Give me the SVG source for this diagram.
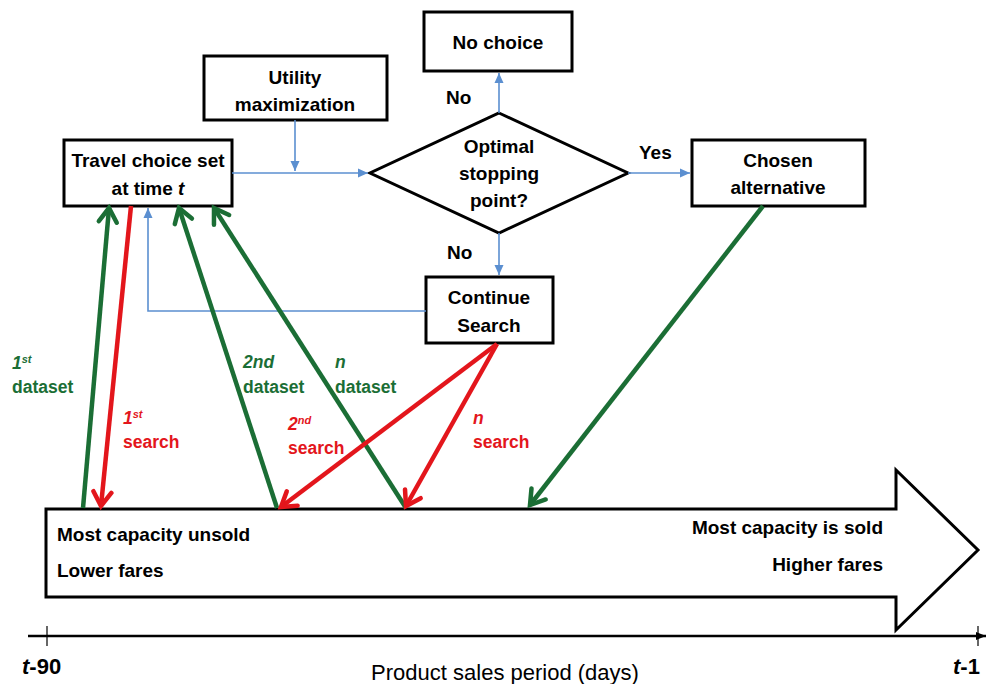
<svg xmlns="http://www.w3.org/2000/svg" width="991" height="684" viewBox="0 0 991 684">
<defs>
<style>
.box{fill:#fff;stroke:#000;stroke-width:3}
.t{font-family:"Liberation Sans",Arial,sans-serif;font-weight:bold;font-size:19px;fill:#000}
.l{font-size:17.5px}
.c{text-anchor:middle}
.g{fill:#1b6e35}
.r{fill:#e3161c}
.it{font-style:italic}
.sup{font-size:11px}
.blue{fill:none;stroke:#5b8fd0;stroke-width:1.6}
.gl{fill:none;stroke:#1b6e35;stroke-width:4.5}
.rl{fill:none;stroke:#e3161c;stroke-width:4.5}
.ax{font-family:"Liberation Sans",Arial,sans-serif;font-size:22px;fill:#000}
</style>
<marker id="bA" markerUnits="userSpaceOnUse" markerWidth="12" markerHeight="12" refX="10" refY="6" orient="auto">
<path d="M0,1.5 L10,6 L0,10.5 Z" fill="#5b8fd0"/>
</marker>
<marker id="gA" markerUnits="userSpaceOnUse" markerWidth="26" markerHeight="26" refX="20" refY="13" orient="auto">
<path d="M6,4 L20,13 L6,22" fill="none" stroke="#1b6e35" stroke-width="4.5" stroke-linecap="round"/>
</marker>
<marker id="rA" markerUnits="userSpaceOnUse" markerWidth="26" markerHeight="26" refX="20" refY="13" orient="auto">
<path d="M6,4 L20,13 L6,22" fill="none" stroke="#e3161c" stroke-width="4.5" stroke-linecap="round"/>
</marker>
<marker id="kA" markerUnits="userSpaceOnUse" markerWidth="12" markerHeight="12" refX="10" refY="6" orient="auto">
<path d="M0,2 L10,6 L0,10 Z" fill="#000"/>
</marker>
</defs>
<rect width="991" height="684" fill="#fff"/>

<g id="period-arrow">
<polygon points="46,509 896,509 896,470 978,550 896,630 896,597 46,597" fill="#fff" stroke="#000" stroke-width="3"/>
<text class="t" x="57" y="541" font-size="20.5">Most capacity unsold</text>
<text class="t" x="57" y="577" font-size="20.5">Lower fares</text>
<text class="t" x="883" y="534" font-size="20.5" text-anchor="end">Most capacity is sold</text>
<text class="t" x="883" y="571" font-size="20.5" text-anchor="end">Higher fares</text>
</g>

<g id="timeline">
<line x1="28" y1="636" x2="986" y2="636" stroke="#000" stroke-width="2.5" marker-end="url(#kA)"/>
<line x1="47" y1="626" x2="47" y2="646" stroke="#000" stroke-width="1.2"/>
<line x1="978" y1="626" x2="978" y2="646" stroke="#000" stroke-width="1.2"/>
<text class="ax" x="22" y="674" font-weight="bold" font-size="20"><tspan font-style="italic">t</tspan>-90</text>
<text class="ax" x="505" y="680" text-anchor="middle">Product sales period (days)</text>
<text class="ax" x="953" y="674" font-weight="bold" font-size="20"><tspan font-style="italic">t</tspan>-1</text>
</g>

<g id="travel-choice-set">
<rect class="box" x="64" y="140" width="168" height="66"/>
<text class="t c" x="148" y="167">Travel choice set</text>
<text class="t c" x="148" y="195">at time <tspan class="it">t</tspan></text>
</g>

<g id="utility-maximization">
<rect class="box" x="204" y="56" width="183" height="64"/>
<text class="t c" x="295" y="84">Utility</text>
<text class="t c" x="295" y="111">maximization</text>
</g>

<g id="no-choice">
<rect class="box" x="424" y="12" width="148" height="59"/>
<text class="t c" x="498" y="49">No choice</text>
</g>

<g id="optimal-stopping">
<polygon points="499,113 628,173 499,233 370,173" fill="#fff" stroke="#000" stroke-width="3"/>
<text class="t c" x="499" y="153">Optimal</text>
<text class="t c" x="499" y="180">stopping</text>
<text class="t c" x="499" y="207">point?</text>
</g>

<g id="chosen-alternative">
<rect class="box" x="692" y="140" width="173" height="66"/>
<text class="t c" x="778" y="167">Chosen</text>
<text class="t c" x="778" y="194">alternative</text>
</g>

<g id="continue-search">
<rect class="box" x="426" y="277" width="127" height="66"/>
<text class="t c" x="489" y="304">Continue</text>
<text class="t c" x="489" y="332">Search</text>
</g>

<g id="connectors">
<path class="blue" d="M232,173 L368,173" marker-end="url(#bA)"/>
<path class="blue" d="M295,120 L295,171" marker-end="url(#bA)"/>
<path class="blue" d="M499,113 L499,73" marker-end="url(#bA)"/>
<path class="blue" d="M628,173 L690,173" marker-end="url(#bA)"/>
<path class="blue" d="M499,233 L499,275" marker-end="url(#bA)"/>
<path class="blue" d="M426,311 L148,311 L148,208" marker-end="url(#bA)"/>

<path class="gl" d="M83,508 L109,208" marker-end="url(#gA)"/>
<path class="rl" d="M131,206 L101,506" marker-end="url(#rA)"/>
<path class="gl" d="M277,508 L179,208" marker-end="url(#gA)"/>
<path class="gl" d="M406,508 L214,208" marker-end="url(#gA)"/>
<path class="rl" d="M497,344 L281,507" marker-end="url(#rA)"/>
<path class="rl" d="M497,344 L406,506" marker-end="url(#rA)"/>
<path class="gl" d="M763,206 L530,505" marker-end="url(#gA)"/>
</g>

<g id="labels">
<text class="t" x="446" y="104">No</text>
<text class="t" x="639" y="159">Yes</text>
<text class="t" x="447" y="259">No</text>

<text class="t l g" x="12" y="369"><tspan class="it">1</tspan><tspan class="it sup" dy="-6">st</tspan></text>
<text class="t l g" x="12" y="393">dataset</text>
<text class="t l r" x="123" y="424"><tspan class="it">1</tspan><tspan class="it sup" dy="-6">st</tspan></text>
<text class="t l r" x="123" y="448">search</text>
<text class="t l g it" x="243" y="368">2nd</text>
<text class="t l g" x="243" y="393">dataset</text>
<text class="t l g it" x="335" y="368">n</text>
<text class="t l g" x="335" y="393">dataset</text>
<text class="t l r" x="288" y="430"><tspan class="it">2</tspan><tspan class="it sup" dy="-6">nd</tspan></text>
<text class="t l r" x="288" y="454">search</text>
<text class="t l r it" x="473" y="424">n</text>
<text class="t l r" x="473" y="448">search</text>
</g>
</svg>
